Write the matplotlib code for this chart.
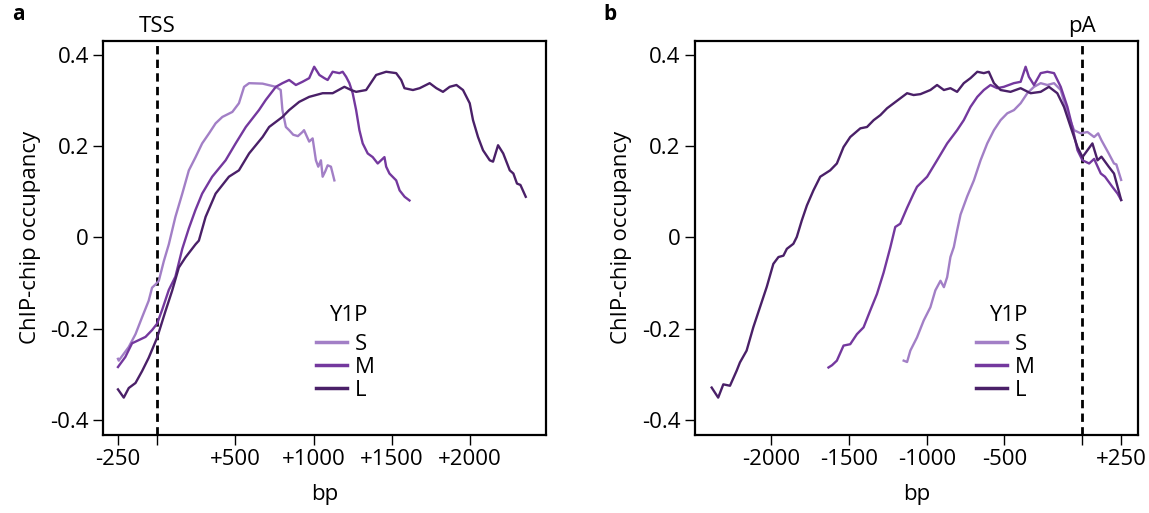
import matplotlib
matplotlib.use("Agg")
import matplotlib.pyplot as plt

plt.rcParams["font.family"] = ["Open Sans", "DejaVu Sans"]

# series colours (light -> dark)
COLORS = {"S": "#a27fc6", "M": "#74389e", "L": "#4a2068"}

# ---- panel a: aligned on TSS ----
a_S_bp = [-250, -245, -181, -138, -96, -54, -32, -10, 11, 43, 75, 117, 161, 203,
          246, 288, 332, 374, 417, 481, 523, 556, 588, 674, 759, 790, 801, 823,
          844, 870, 900, 929, 939, 972, 994, 1015, 1030, 1047, 1058, 1075, 1090,
          1111, 1133]
a_S_val = [-0.266, -0.270, -0.240, -0.212, -0.175, -0.139, -0.110, -0.103, -0.095,
           -0.052, -0.015, 0.045, 0.096, 0.147, 0.176, 0.206, 0.228, 0.250, 0.264,
           0.275, 0.294, 0.330, 0.338, 0.337, 0.330, 0.323, 0.279, 0.242, 0.235,
           0.225, 0.222, 0.231, 0.235, 0.210, 0.217, 0.169, 0.155, 0.169, 0.133,
           0.145, 0.158, 0.155, 0.125]

a_M_bp = [-250, -203, -160, -117, -74, -32, 0, 32, 75, 117, 161, 203, 245, 288, 352,
          438, 502, 567, 651, 694, 759, 801, 844, 887, 929, 972, 1004, 1037, 1069,
          1090, 1122, 1165, 1186, 1208, 1229, 1250, 1272, 1293, 1314, 1346, 1378,
          1410, 1453, 1464, 1485, 1528, 1550, 1582, 1613]
a_M_val = [-0.284, -0.262, -0.232, -0.225, -0.218, -0.203, -0.189, -0.159, -0.115,
           -0.086, -0.025, 0.020, 0.060, 0.096, 0.133, 0.169, 0.206, 0.242, 0.279,
           0.301, 0.330, 0.338, 0.345, 0.334, 0.341, 0.349, 0.374, 0.356, 0.349,
           0.345, 0.363, 0.360, 0.363, 0.352, 0.338, 0.316, 0.279, 0.235, 0.206,
           0.184, 0.176, 0.162, 0.176, 0.155, 0.140, 0.125, 0.103, 0.089, 0.081]

a_L_bp = [-250, -213, -181, -138, -96, -54, 0, 54, 96, 139, 181, 246, 267, 310, 374,
          459, 523, 588, 674, 716, 801, 844, 908, 972, 1058, 1122, 1197, 1240, 1272,
          1336, 1400, 1464, 1528, 1560, 1581, 1635, 1678, 1742, 1785, 1827, 1870,
          1913, 1955, 1998, 2019, 2051, 2083, 2126, 2147, 2179, 2212, 2254, 2277,
          2300, 2322, 2356]
a_L_val = [-0.333, -0.351, -0.330, -0.319, -0.293, -0.264, -0.220, -0.161, -0.117,
           -0.066, -0.044, -0.015, -0.007, 0.045, 0.096, 0.133, 0.147, 0.184, 0.220,
           0.242, 0.264, 0.279, 0.297, 0.308, 0.316, 0.316, 0.330, 0.323, 0.319,
           0.323, 0.356, 0.363, 0.360, 0.345, 0.327, 0.323, 0.327, 0.338, 0.327,
           0.319, 0.330, 0.334, 0.323, 0.294, 0.257, 0.220, 0.191, 0.169, 0.166,
           0.202, 0.184, 0.147, 0.140, 0.118, 0.115, 0.089]

# ---- panel b: aligned on pA ----
b_S_bp = [-1149, -1127, -1106, -1063, -1020, -977, -945, -912, -890, -869, -848,
          -826, -805, -783, -740, -697, -654, -611, -568, -525, -482, -439, -396,
          -353, -310, -267, -224, -181, -138, -95, -52, -9, 34, 77, 103, 124, 171,
          205, 220, 251]
b_S_val = [-0.270, -0.273, -0.248, -0.219, -0.182, -0.153, -0.116, -0.095, -0.109,
           -0.087, -0.043, -0.021, 0.015, 0.050, 0.090, 0.125, 0.169, 0.206, 0.235,
           0.257, 0.272, 0.279, 0.294, 0.316, 0.330, 0.338, 0.334, 0.338, 0.323,
           0.272, 0.235, 0.228, 0.231, 0.220, 0.228, 0.213, 0.184, 0.162, 0.160,
           0.126]

b_M_bp = [-1633, -1610, -1579, -1536, -1493, -1450, -1407, -1364, -1321, -1278,
          -1235, -1203, -1171, -1127, -1085, -1063, -998, -934, -869, -805, -762,
          -719, -675, -633, -590, -547, -504, -440, -396, -364, -343, -310, -267,
          -224, -181, -138, -95, -63, -30, 2, 45, 77, 120, 147, 194, 228, 251]
b_M_val = [-0.285, -0.280, -0.270, -0.237, -0.234, -0.212, -0.197, -0.160, -0.124,
           -0.077, -0.022, 0.023, 0.030, 0.065, 0.096, 0.111, 0.133, 0.169, 0.206,
           0.235, 0.257, 0.286, 0.308, 0.323, 0.334, 0.327, 0.330, 0.338, 0.341,
           0.374, 0.352, 0.334, 0.360, 0.363, 0.360, 0.330, 0.286, 0.242, 0.191,
           0.169, 0.162, 0.172, 0.140, 0.133, 0.111, 0.096, 0.082]

b_L_bp = [-2385, -2343, -2310, -2267, -2224, -2203, -2160, -2117, -2074, -2030,
          -1988, -1955, -1923, -1901, -1859, -1837, -1805, -1772, -1730, -1686,
          -1622, -1579, -1536, -1493, -1428, -1385, -1342, -1299, -1256, -1213,
          -1170, -1127, -1085, -1041, -977, -934, -890, -848, -805, -762, -719,
          -675, -633, -601, -568, -525, -461, -396, -332, -267, -214, -160, -117,
          -74, -30, 2, 34, 66, 99, 124, 171, 205, 240, 251]
b_L_val = [-0.329, -0.351, -0.322, -0.325, -0.292, -0.274, -0.248, -0.197, -0.153,
           -0.108, -0.058, -0.043, -0.040, -0.025, -0.014, 0.001, 0.037, 0.070,
           0.103, 0.133, 0.147, 0.162, 0.198, 0.220, 0.239, 0.242, 0.257, 0.268,
           0.283, 0.294, 0.305, 0.316, 0.312, 0.314, 0.323, 0.334, 0.323, 0.327,
           0.319, 0.338, 0.349, 0.363, 0.360, 0.363, 0.338, 0.323, 0.319, 0.327,
           0.316, 0.319, 0.330, 0.316, 0.286, 0.242, 0.198, 0.176, 0.191, 0.206,
           0.169, 0.177, 0.155, 0.140, 0.096, 0.082]

a_ticks = [-250, 0, 500, 1000, 1500, 2000]
a_ticklabels = ["-250", "", "+500", "+1000", "+1500", "+2000"]
b_ticks = [-2000, -1500, -1000, -500, 0, 250]
b_ticklabels = ["-2000", "-1500", "-1000", "-500", "", "+250"]
y_ticks = [-0.4, -0.2, 0, 0.2, 0.4]
y_ticklabels = ["-0.4", "-0.2", "0", "0.2", "0.4"]

FS = 16


def style_panel(ax, xlim, ticks, ticklabels, marker_label, panel_letter):
    ax.set_xlim(*xlim)
    ax.set_ylim(-0.433, 0.431)
    ax.set_xticks(ticks)
    ax.set_xticklabels(ticklabels, fontsize=FS)
    ax.set_yticks(y_ticks)
    ax.set_yticklabels(y_ticklabels, fontsize=FS)
    ax.tick_params(direction="out", length=7, width=1, pad=3)
    for sp in ax.spines.values():
        sp.set_linewidth(1.6)
    ax.set_xlabel("bp", fontsize=FS, labelpad=10)
    ax.set_ylabel("ChIP-chip occupancy", fontsize=FS, labelpad=7)
    ax.axvline(0, color="black", linestyle=(0, (3, 1.9)), linewidth=2, zorder=1)
    ax.text(0, 1.01, marker_label, fontsize=FS, ha="center", va="bottom",
            transform=ax.get_xaxis_transform())
    ax.text(-0.205, 1.04, panel_letter, fontsize=FS - 1, fontweight="bold",
            transform=ax.transAxes, ha="left", va="bottom")


fig = plt.figure(figsize=(11.49, 5.13), dpi=100)
ax_a = fig.add_axes([0.0896, 0.152, 0.3854, 0.7686])
ax_b = fig.add_axes([0.6045, 0.152, 0.386, 0.7686])

for ax, data in [
    (ax_a, [(a_S_bp, a_S_val, "S"), (a_M_bp, a_M_val, "M"), (a_L_bp, a_L_val, "L")]),
    (ax_b, [(b_S_bp, b_S_val, "S"), (b_M_bp, b_M_val, "M"), (b_L_bp, b_L_val, "L")]),
]:
    for x, y, name in data:
        ax.plot(x, y, color=COLORS[name], linewidth=1.7, label=name, zorder=2)

style_panel(ax_a, (-346, 2484), a_ticks, a_ticklabels, "TSS", "a")
style_panel(ax_b, (-2495, 360), b_ticks, b_ticklabels, "pA", "b")

# legend: title drawn separately so it sits a little above the entries
for ax, anchor, title_x in [(ax_a, (0.435, 0.308), 0.553), (ax_b, (0.59, 0.308), 0.708)]:
    leg = ax.legend(loc="upper left", bbox_to_anchor=anchor,
                    frameon=False, fontsize=FS,
                    handlelength=1.4, handletextpad=0.35, labelspacing=0.1)
    for line in leg.get_lines():
        line.set_linewidth(2.5)
    ax.text(title_x, 0.304, "Y1P", fontsize=FS, ha="center", va="center",
            transform=ax.transAxes)

fig.savefig("out.png", dpi=100)
